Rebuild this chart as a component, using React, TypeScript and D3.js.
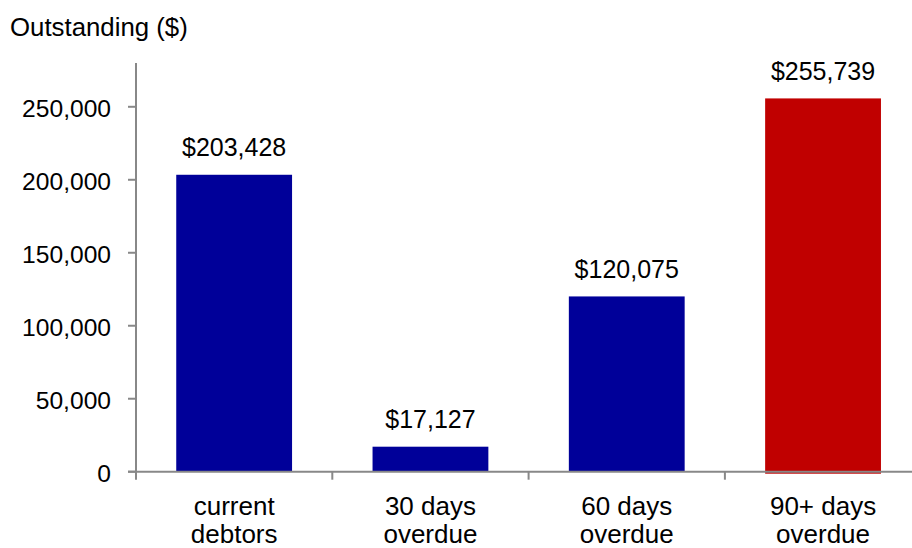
import React from "react";
import * as d3 from "d3";

const categories: string[][] = [
  ["current", "debtors"],
  ["30 days", "overdue"],
  ["60 days", "overdue"],
  ["90+ days", "overdue"],
];
const values: number[] = [203428, 17127, 120075, 255739];
const colors: string[] = ["#000099", "#000099", "#000099", "#C00000"];
const yTicks: number[] = [0, 50000, 100000, 150000, 200000, 250000];
const yTitle = "Outstanding ($)";

const W = 912;
const H = 548;
const left = 136;
const bandW = 196.3;
const top = 63;
const zeroY = 471.7;
const FONT = "'Liberation Sans', Arial, sans-serif";

export default function App() {
  const x = d3
    .scaleBand<number>()
    .domain(d3.range(values.length))
    .range([left, left + bandW * values.length])
    .paddingInner(0.41)
    .paddingOuter(0.205);
  const y = d3.scaleLinear().domain([0, 280000]).range([zeroY, top]);
  const fmt = d3.format(",");
  const axisColor = "#888888";

  return (
    <svg
      width={W}
      height={H}
      style={{ position: "absolute", left: 0, top: 0, background: "#fff" }}
      fontFamily={FONT}
    >
      <text x={10} y={35.5} fontSize={25.8} fill="#000">
        {yTitle}
      </text>
      {values.map((v, i) => (
        <rect
          key={i}
          x={x(i)!}
          y={y(v)}
          width={x.bandwidth()}
          height={zeroY - y(v) + (i === 3 ? 2 : 0)}
          fill={colors[i]}
        />
      ))}
      <line x1={left} x2={left} y1={top} y2={zeroY} stroke={axisColor} strokeWidth={2} />
      <line x1={left - 8} x2={W} y1={zeroY} y2={zeroY} stroke={axisColor} strokeWidth={2} />
      {yTicks.map((t) => (
        <g key={t}>
          <line x1={left - 8} x2={left} y1={y(t)} y2={y(t)} stroke={axisColor} strokeWidth={2} />
          <text x={111} y={y(t) + 10} textAnchor="end" fontSize={24.6} fill="#000">
            {fmt(t)}
          </text>
        </g>
      ))}
      {d3.range(values.length + 1).map((i) => {
        const xx = left + bandW * i;
        return (
          <line key={i} x1={xx} x2={xx} y1={zeroY} y2={zeroY + 8} stroke={axisColor} strokeWidth={2} />
        );
      })}
      {values.map((v, i) => {
        const cx = x(i)! + x.bandwidth() / 2;
        return (
          <g key={i}>
            <text x={cx} y={y(v) - 18.5} textAnchor="middle" fontSize={25} fill="#000">
              {"$" + fmt(v)}
            </text>
            {categories[i].map((line, j) => (
              <text key={j} x={cx} y={515 + j * 28.3} textAnchor="middle" fontSize={26} fill="#000">
                {line}
              </text>
            ))}
          </g>
        );
      })}
    </svg>
  );
}
